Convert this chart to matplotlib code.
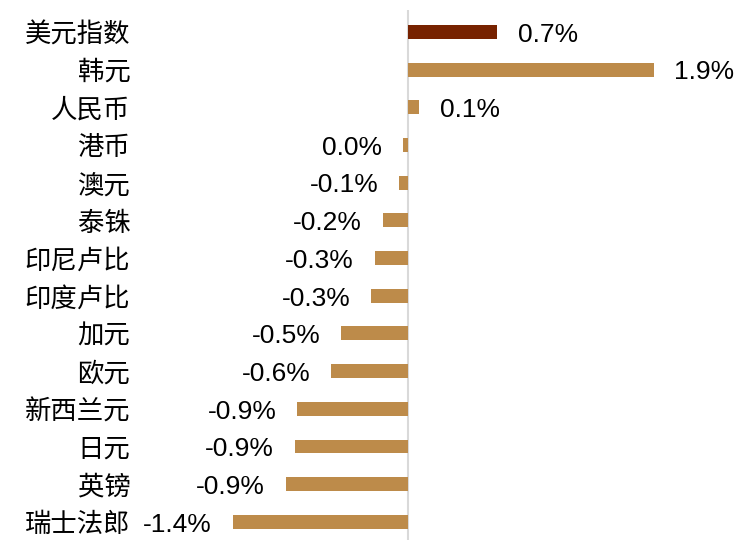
import matplotlib.pyplot as plt

plt.rcParams['font.family'] = ['Liberation Sans', 'Noto Sans CJK SC']

# currency changes (%)
currencies = ['美元指数', '韩元', '人民币', '港币', '澳元', '泰铢', '印尼卢比',
              '印度卢比', '加元', '欧元', '新西兰元', '日元', '英镑', '瑞士法郎']
changes = [0.69, 1.90, 0.085, -0.04, -0.07, -0.20, -0.26,
           -0.29, -0.52, -0.60, -0.86, -0.88, -0.95, -1.36]
labels = ['0.7%', '1.9%', '0.1%', '0.0%', '-0.1%', '-0.2%', '-0.3%',
          '-0.3%', '-0.5%', '-0.6%', '-0.9%', '-0.9%', '-0.9%', '-1.4%']

colors = ['#772200'] + ['#BD8B4A'] * (len(currencies) - 1)

fig = plt.figure(figsize=(7.45, 5.47), dpi=100)
ax = fig.add_axes([140 / 745, 7 / 547, 600 / 745, 530 / 547])

pos = list(range(len(currencies)))
ax.barh(pos, changes, height=0.37, color=colors)
ax.axvline(0, color='#D9D9D9', lw=1.5, zorder=0)

for p, v, t in zip(pos, changes, labels):
    if v >= 0:
        ax.annotate(t, (v, p), xytext=(15, -2), textcoords='offset points',
                    ha='left', va='center', fontsize=19)
    else:
        ax.annotate(t, (v, p), xytext=(-15, -2), textcoords='offset points',
                    ha='right', va='center', fontsize=19)

ax.set_xlim(-2.08, 2.57)
ax.set_ylim(13.48, -0.58)
ax.set_yticks(pos)
ax.set_yticklabels(currencies, fontsize=19, family=['Noto Sans CJK SC'])
ax.tick_params(axis='y', length=0, pad=7)
ax.set_xticks([])
for s in ax.spines.values():
    s.set_visible(False)

fig.savefig('out.png', dpi=100)
